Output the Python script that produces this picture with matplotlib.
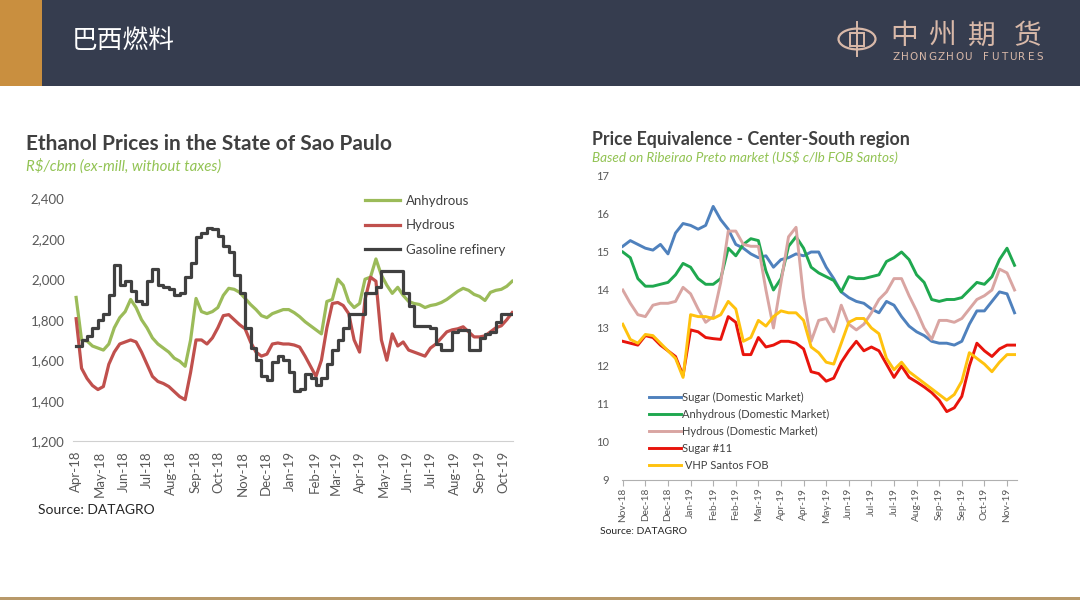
import matplotlib
matplotlib.use("Agg")
import matplotlib.pyplot as plt
import matplotlib.dates as mdates
import matplotlib.patches as mpatches
import numpy as np
import pandas as pd

W, H = 1080, 607

# ---------------- left chart: Ethanol prices, weekly, R$/cbm ----------------
eth_start = "2018-04-01"
anhydrous = [1910, 1700, 1695, 1670, 1660, 1650, 1680, 1760, 1810, 1840,
             1900, 1860, 1800, 1760, 1710, 1680, 1660, 1640, 1610, 1595,
             1570, 1700, 1905, 1840, 1830, 1840, 1860, 1920, 1955, 1950,
             1935, 1905, 1875, 1850, 1820, 1810, 1830, 1840, 1850, 1850,
             1835, 1815, 1790, 1770, 1750, 1730, 1890, 1900, 2000, 1970,
             1890, 1860, 1880, 2000, 2010, 2100, 2020, 1970, 1930, 1960,
             1920, 1890, 1880, 1875, 1860, 1870, 1875, 1885, 1900, 1920,
             1940, 1955, 1945, 1925, 1915, 1895, 1935, 1945, 1950, 1965, 1990]
hydrous = [1805, 1560, 1510, 1475, 1455, 1470, 1580, 1640, 1680, 1690,
           1700, 1690, 1640, 1580, 1520, 1495, 1485, 1470, 1445, 1420,
           1405, 1540, 1700, 1700, 1680, 1710, 1760, 1820, 1825, 1800,
           1775, 1755, 1690, 1640, 1620, 1630, 1680, 1685, 1680, 1680,
           1675, 1665, 1620, 1570, 1520, 1600, 1760, 1880, 1885, 1870,
           1830, 1700, 1640, 1900, 2010, 1990, 1700, 1600, 1730, 1670,
           1690, 1650, 1640, 1630, 1620, 1660, 1680, 1710, 1740, 1750,
           1755, 1765, 1740, 1715, 1715, 1720, 1740, 1760, 1770, 1800, 1835]
gasoline = [1670, 1700, 1720, 1760, 1800, 1830, 1920, 2070, 1970, 1990,
            1940, 1890, 1880, 1990, 2050, 1970, 1960, 1950, 1920, 1930,
            2010, 2080, 2210, 2230, 2255, 2250, 2215, 2165, 2135, 2020,
            1930, 1760, 1660, 1600, 1520, 1500, 1590, 1620, 1600, 1540,
            1450, 1460, 1530, 1510, 1480, 1510, 1580, 1650, 1700, 1760,
            1830, 1830, 1830, 1930, 1930, 1960, 2040, 2040, 2040, 2040,
            1930, 1870, 1770, 1770, 1770, 1760, 1680, 1650, 1650, 1740,
            1750, 1750, 1650, 1650, 1710, 1730, 1740, 1790, 1830, 1830, 1830]
eth_labels = ["Anhydrous", "Hydrous", "Gasoline refinery"]
eth_yticks = [1200, 1400, 1600, 1800, 2000, 2200, 2400]

# ---------------- right chart: Price equivalence, weekly, US$ c/lb ----------------
eq_start = "2018-11-12"
sugar_dom = [15.15, 15.3, 15.2, 15.1, 15.05, 15.2, 14.95, 15.5, 15.75, 15.7,
             15.6, 15.7, 16.2, 15.85, 15.6, 15.2, 15.1, 14.95, 14.85, 14.9,
             14.6, 14.8, 14.85, 14.95, 14.9, 15.0, 15.0, 14.6, 14.3, 13.95,
             13.8, 13.7, 13.65, 13.5, 13.4, 13.7, 13.6, 13.3, 13.05, 12.9,
             12.8, 12.65, 12.6, 12.6, 12.55, 12.65, 13.1, 13.45, 13.45, 13.7,
             13.95, 13.9, 13.4]
anh_dom = [15.0, 14.85, 14.3, 14.1, 14.1, 14.15, 14.2, 14.4, 14.7, 14.6,
           14.3, 14.15, 14.15, 14.3, 15.1, 14.9, 15.2, 15.35, 15.3, 14.5,
           14.0, 14.3, 15.15, 15.4, 15.1, 14.6, 14.45, 14.35, 14.25, 13.95,
           14.35, 14.3, 14.3, 14.35, 14.4, 14.75, 14.85, 15.0, 14.8, 14.4,
           14.2, 13.75, 13.7, 13.75, 13.75, 13.8, 14.0, 14.2, 14.15, 14.35,
           14.8, 15.1, 14.65]
hyd_dom = [14.0, 13.65, 13.35, 13.3, 13.6, 13.65, 13.65, 13.7, 14.07, 13.9,
           13.5, 13.15, 13.3, 14.2, 15.55, 15.55, 15.2, 15.15, 15.15, 14.0,
           13.0, 14.2, 15.4, 15.65, 13.8, 12.65, 13.2, 13.25, 12.9, 13.6,
           13.1, 12.95, 13.1, 13.4, 13.75, 13.95, 14.3, 14.3, 13.85, 13.45,
           13.0, 12.7, 13.2, 13.2, 13.15, 13.25, 13.5, 13.75, 13.85, 14.0,
           14.55, 14.45, 14.0]
sugar11 = [12.65, 12.6, 12.55, 12.8, 12.75, 12.55, 12.4, 12.25, 11.75, 12.95,
           12.9, 12.75, 12.72, 12.7, 13.3, 13.15, 12.3, 12.3, 12.75, 12.5,
           12.55, 12.65, 12.65, 12.6, 12.45, 11.85, 11.8, 11.6, 11.68, 12.1,
           12.4, 12.65, 12.4, 12.5, 12.4, 12.05, 11.7, 12.0, 11.7, 11.58,
           11.45, 11.3, 11.1, 10.8, 10.9, 11.2, 12.0, 12.6, 12.4, 12.25,
           12.45, 12.55, 12.55]
vhp = [13.1, 12.7, 12.6, 12.83, 12.8, 12.6, 12.4, 12.2, 11.7, 13.35,
       13.3, 13.3, 13.25, 13.35, 13.7, 13.5, 12.65, 12.75, 13.2, 13.05,
       13.3, 13.45, 13.4, 13.4, 13.2, 12.5, 12.35, 12.1, 12.05, 12.6,
       13.15, 13.25, 13.25, 13.0, 12.85, 12.2, 11.9, 12.1, 11.85, 11.7,
       11.55, 11.4, 11.25, 11.1, 11.25, 11.6, 12.35, 12.2, 12.05, 11.85,
       12.1, 12.3, 12.3]
eq_labels = ["Sugar (Domestic Market)", "Anhydrous (Domestic Market)",
             "Hydrous (Domestic Market)", "Sugar #11", " VHP Santos FOB"]
eq_tick_labels = ["Nov-18", "Dec-18", "Dec-18", "Jan-19", "Feb-19", "Feb-19",
                  "Mar-19", "Apr-19", "Apr-19", "May-19", "Jun-19", "Jul-19",
                  "Jul-19", "Aug-19", "Sep-19", "Sep-19", "Oct-19", "Nov-19"]

plt.rcParams['font.family'] = ['Lato', 'DejaVu Sans']
TXT = '#595959'


def fx(px):
    return px / W


def fy(py):
    return 1 - py / H


fig = plt.figure(figsize=(W / 100, H / 100), dpi=100)
fig.patch.set_facecolor('white')

# header band
fig.add_artist(mpatches.Rectangle((0, fy(86)), 1, 86 / H, transform=fig.transFigure,
                                  facecolor='#363d4f', edgecolor='none'))
fig.add_artist(mpatches.Rectangle((0, fy(86)), fx(42), 86 / H, transform=fig.transFigure,
                                  facecolor='#c98f3f', edgecolor='none'))
fig.text(fx(72), fy(41), "巴西燃料", color='white', fontsize=18.5, va='center', ha='left',
         family=['Noto Sans CJK SC', 'DejaVu Sans'])

# logo
logo_c = '#d9b9a9'
fig.add_artist(mpatches.Circle((fx(857), fy(39)), 18.5 / W, transform=fig.transFigure,
                               facecolor='none', edgecolor=logo_c, lw=1.6))
fig.add_artist(mpatches.Rectangle((fx(850), fy(46)), 14 / W, 13 / H, transform=fig.transFigure,
                                  facecolor='none', edgecolor=logo_c, lw=1.4))
fig.add_artist(plt.Line2D([fx(857), fx(857)], [fy(22), fy(56)], transform=fig.transFigure,
                          color=logo_c, lw=1.4))
for ch, cx in zip("中州期货", [904, 942, 982, 1028]):
    fig.text(fx(cx), fy(36), ch, color=logo_c, fontsize=20, ha='center', va='center',
             family=['Noto Sans CJK SC', 'DejaVu Sans'])
for ch, cx in zip("ZHONGZHOU FUTURES", np.linspace(896, 1040, 17)):
    fig.text(fx(cx), fy(57), ch, color=logo_c, fontsize=7.5, ha='center', va='center',
             family='DejaVu Sans')

# bottom gold rule
fig.add_artist(mpatches.Rectangle((0, fy(600)), 1, 3 / H, transform=fig.transFigure,
                                  facecolor='#b8996a', edgecolor='none'))

# ---------------- left chart ----------------
fig.text(fx(26), fy(144), "Ethanol Prices in the State of Sao Paulo", fontsize=15,
         fontweight='bold', color='#404040', va='center')
fig.text(fx(26), fy(166), "R$/cbm (ex-mill, without taxes)", fontsize=10.8,
         style='italic', color='#92c353', va='center')

ax1 = fig.add_axes([fx(73), fy(441.2), 440 / W, 243 / H])
eth_dates = pd.date_range(eth_start, periods=len(anhydrous), freq='7D')
ax1.plot(eth_dates, anhydrous, color='#9bbb59', lw=2.3, label=eth_labels[0])
ax1.plot(eth_dates, hydrous, color='#c0504d', lw=2.3, label=eth_labels[1])
ax1.plot(eth_dates, gasoline, color='#404040', lw=2.3, label=eth_labels[2],
         drawstyle='steps-post')
ax1.set_ylim(1200, 2400)
ax1.set_xlim(pd.Timestamp("2018-03-28"), pd.Timestamp("2019-10-14"))
ax1.set_yticks(eth_yticks)
ax1.set_yticklabels([f"{v:,}" for v in eth_yticks])
ax1.xaxis.set_major_locator(mdates.MonthLocator())
ax1.xaxis.set_major_formatter(mdates.DateFormatter('%b-%y'))
for s in ['top', 'right', 'left']:
    ax1.spines[s].set_visible(False)
ax1.spines['bottom'].set_color('#d0d0d0')
ax1.tick_params(axis='both', length=0, colors=TXT, labelsize=9.5)
ax1.tick_params(axis='y', pad=6)
ax1.tick_params(axis='x', pad=7)
plt.setp(ax1.get_xticklabels(), rotation=90)
ax1.legend(loc='upper left', bbox_to_anchor=(fx(358), fy(188)), bbox_transform=fig.transFigure,
           frameon=False, fontsize=9.5, handlelength=2.7, handletextpad=0.4,
           labelspacing=0.95, labelcolor='#404040', borderpad=0)
fig.text(fx(38), fy(510), "Source: DATAGRO", fontsize=10, color='#262626', va='center')

# ---------------- right chart ----------------
fig.text(fx(592), fy(139), "Price Equivalence - Center-South region", fontsize=12.8,
         fontweight='bold', color='#404040', va='center')
fig.text(fx(592), fy(157), "Based on Ribeirao Preto market (US$ c/lb FOB Santos)", fontsize=9.7,
         style='italic', color='#92c353', va='center')

ax2 = fig.add_axes([fx(621.7), fy(480), 395 / W, 304 / H])
eq_dates = pd.date_range(eq_start, periods=len(sugar_dom), freq='7D')
ax2.plot(eq_dates, sugar_dom, color='#4f81bd', lw=2.1, label=eq_labels[0])
ax2.plot(eq_dates, anh_dom, color='#1fa84f', lw=2.1, label=eq_labels[1])
ax2.plot(eq_dates, hyd_dom, color='#d9a5a2', lw=2.1, label=eq_labels[2])
ax2.plot(eq_dates, sugar11, color='#e8140c', lw=2.1, label=eq_labels[3])
ax2.plot(eq_dates, vhp, color='#ffc20e', lw=2.1, label=eq_labels[4])
ax2.set_ylim(9, 17)
ax2.set_yticks(range(9, 18))
ax2.set_xlim(pd.Timestamp("2018-11-11"), pd.Timestamp("2019-11-13"))
eq_ticks = pd.date_range(eq_start, periods=len(eq_tick_labels), freq='21D')
ax2.set_xticks(eq_ticks)
ax2.set_xticklabels(eq_tick_labels, rotation=90)
for s in ['top', 'right', 'left']:
    ax2.spines[s].set_visible(False)
ax2.spines['bottom'].set_color('#b0b0b0')
ax2.tick_params(axis='y', length=0, colors=TXT, labelsize=8, pad=9)
ax2.tick_params(axis='x', length=4, color='#b0b0b0', colors=TXT, labelsize=7.3, pad=1.5)
ax2.legend(loc='upper left', bbox_to_anchor=(fx(643), fy(386)), bbox_transform=fig.transFigure,
           frameon=False, fontsize=8, handlelength=2.9, handletextpad=0.15,
           labelspacing=0.55, labelcolor='#404040', borderpad=0)
fig.text(fx(600), fy(531), "Source: DATAGRO", fontsize=7.5, color='#262626', va='center')

fig.savefig("out.png", dpi=100)
